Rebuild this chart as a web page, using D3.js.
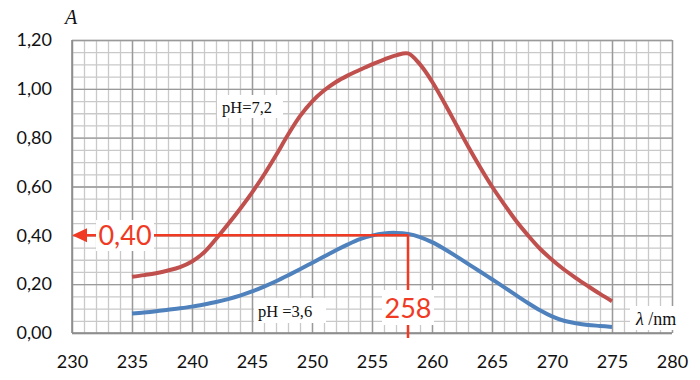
<!DOCTYPE html>
<html>
<head>
<meta charset="utf-8">
<script src="https://cdn.jsdelivr.net/npm/d3@7"></script>
<style>
  body { margin: 0; background: #fff; }
  svg { display: block; }
</style>
</head>
<body>
<svg id="chart" width="700" height="380"></svg>
<script>
// wavelengths, nm
const wavelengths = d3.range(235, 276);
// absorbance at pH 7,2
const acidNeutral = [0.23, 0.237, 0.245, 0.256, 0.27, 0.293, 0.33, 0.385, 0.445, 0.508,
  0.575, 0.648, 0.728, 0.812, 0.888, 0.948, 0.993, 1.028, 1.055, 1.078,
  1.10, 1.12, 1.137, 1.145, 1.10, 1.03, 0.945, 0.855, 0.765, 0.68,
  0.60, 0.528, 0.46, 0.40, 0.345, 0.30, 0.26, 0.225, 0.192, 0.16, 0.13];
// absorbance at pH 3,6
const acidLow = [0.08, 0.084, 0.089, 0.095, 0.101, 0.108, 0.117, 0.127, 0.139, 0.153,
  0.17, 0.19, 0.212, 0.236, 0.261, 0.287, 0.313, 0.339, 0.363, 0.384,
  0.399, 0.408, 0.41, 0.406, 0.393, 0.372, 0.345, 0.315, 0.283, 0.252,
  0.22, 0.188, 0.155, 0.123, 0.093, 0.068, 0.05, 0.04, 0.033, 0.029, 0.025];
const xTicks = [230, 235, 240, 245, 250, 255, 260, 265, 270, 275, 280];
const yTicks = [0, 0.2, 0.4, 0.6, 0.8, 1.0, 1.2];
const readA = 0.40, readL = 258;

const svg = d3.select("#chart");
const m = { left: 72, right: 672, top: 40, bottom: 333 };
const x = d3.scaleLinear().domain([230, 280]).range([m.left, m.right]);
const y = d3.scaleLinear().domain([0, 1.2]).range([m.bottom, m.top]);
const comma = (d) => d3.format(".2f")(d).replace(".", ",");
const sans = "Lato, 'Open Sans', sans-serif";
const serif = "'Liberation Serif', 'DejaVu Serif', serif";

// minor grid
svg.append("g")
  .attr("transform", `translate(0,${m.bottom})`)
  .call(d3.axisBottom(x).tickValues(d3.range(230, 281)).tickSize(-(m.bottom - m.top)).tickFormat(""))
  .call((g) => g.select(".domain").remove())
  .selectAll("line").attr("stroke", "#c9c9c9").attr("stroke-width", 1.3);
svg.append("g")
  .attr("transform", `translate(${m.left},0)`)
  .call(d3.axisLeft(y).tickValues(d3.range(0, 1.2001, 0.05)).tickSize(-(m.right - m.left)).tickFormat(""))
  .call((g) => g.select(".domain").remove())
  .selectAll("line").attr("stroke", "#c9c9c9").attr("stroke-width", 1.3);

// major grid + labels
svg.append("g")
  .attr("transform", `translate(0,${m.bottom})`)
  .call(d3.axisBottom(x).tickValues(xTicks).tickSize(-(m.bottom - m.top)).tickPadding(22))
  .call((g) => g.select(".domain").remove())
  .call((g) => g.selectAll("line").attr("stroke", "#9a9a9a").attr("stroke-width", 1.4))
  .call((g) => g.selectAll("text").attr("font-family", sans)
    .attr("font-size", 18).attr("fill", "#111"));
svg.append("g")
  .attr("transform", `translate(${m.left},0)`)
  .call(d3.axisLeft(y).tickValues(yTicks).tickSize(-(m.right - m.left)).tickPadding(20).tickFormat(comma))
  .call((g) => g.select(".domain").remove())
  .call((g) => g.selectAll("line").attr("stroke", "#9a9a9a").attr("stroke-width", 1.4))
  .call((g) => g.selectAll("text").attr("font-family", sans)
    .attr("font-size", 18).attr("fill", "#111"));

// axis lines
svg.append("line").attr("x1", m.left).attr("x2", m.left).attr("y1", m.top).attr("y2", m.bottom)
  .attr("stroke", "#8a8a8a").attr("stroke-width", 1.5);
svg.append("line").attr("x1", m.left).attr("x2", m.right).attr("y1", m.bottom).attr("y2", m.bottom)
  .attr("stroke", "#8a8a8a").attr("stroke-width", 1.5);

// curves
const line = (vals) => d3.line()
  .x((d, i) => x(wavelengths[i]))
  .y((d) => y(d))
  .curve(d3.curveCatmullRom)(vals);

svg.append("path").attr("d", line(acidNeutral))
  .attr("fill", "none").attr("stroke", "#c0504d").attr("stroke-width", 4)
  .attr("stroke-linejoin", "round");
svg.append("path").attr("d", line(acidLow))
  .attr("fill", "none").attr("stroke", "#4f81bd").attr("stroke-width", 4)
  .attr("stroke-linejoin", "round");

// curve labels
svg.append("rect").attr("x", 217).attr("y", 95).attr("width", 66).attr("height", 23).attr("fill", "#fff");
svg.append("text").attr("x", 222).attr("y", 113).attr("font-family", serif).attr("font-size", 16.5)
  .attr("fill", "#111").text("pH=7,2");
svg.append("rect").attr("x", 254).attr("y", 298).attr("width", 72).attr("height", 25).attr("fill", "#fff");
svg.append("text").attr("x", 258).attr("y", 317).attr("font-family", serif).attr("font-size", 16.5)
  .attr("fill", "#111").text("pH =3,6");

// reading lines
const red = "#f03a24";
svg.append("line").attr("x1", x(230) + 14).attr("x2", x(readL)).attr("y1", y(readA)).attr("y2", y(readA))
  .attr("stroke", red).attr("stroke-width", 2.5);
svg.append("path")
  .attr("d", `M${x(230)},${y(readA)} l15,-7 l0,14 z`)
  .attr("fill", red);
svg.append("line").attr("x1", x(readL)).attr("x2", x(readL)).attr("y1", y(readA) - 1).attr("y2", 338)
  .attr("stroke", red).attr("stroke-width", 2.5);

svg.append("rect").attr("x", 96).attr("y", 220).attr("width", 58).attr("height", 31).attr("fill", "#fff");
svg.append("text").attr("x", 125).attr("y", 245).attr("text-anchor", "middle")
  .attr("font-family", sans).attr("font-size", 27).attr("fill", red)
  .text(comma(readA));
svg.append("rect").attr("x", x(readL) - 26).attr("y", 290).attr("width", 52).attr("height", 35).attr("fill", "#fff");
svg.append("text").attr("x", x(readL)).attr("y", 318).attr("text-anchor", "middle")
  .attr("font-family", sans).attr("font-size", 27).attr("fill", red)
  .text(readL);

// axis titles
svg.append("text").attr("x", 65).attr("y", 24).attr("font-family", serif).attr("font-style", "italic")
  .attr("font-size", 20).attr("fill", "#111").text("A");
svg.append("rect").attr("x", 630).attr("y", 306).attr("width", 64).attr("height", 24).attr("fill", "#fff");
const lt = svg.append("text").attr("x", 636).attr("y", 325).attr("font-family", serif)
  .attr("font-size", 18).attr("fill", "#111");
lt.append("tspan").attr("font-style", "italic").text("λ");
lt.append("tspan").text(" /nm");
</script>
</body>
</html>
